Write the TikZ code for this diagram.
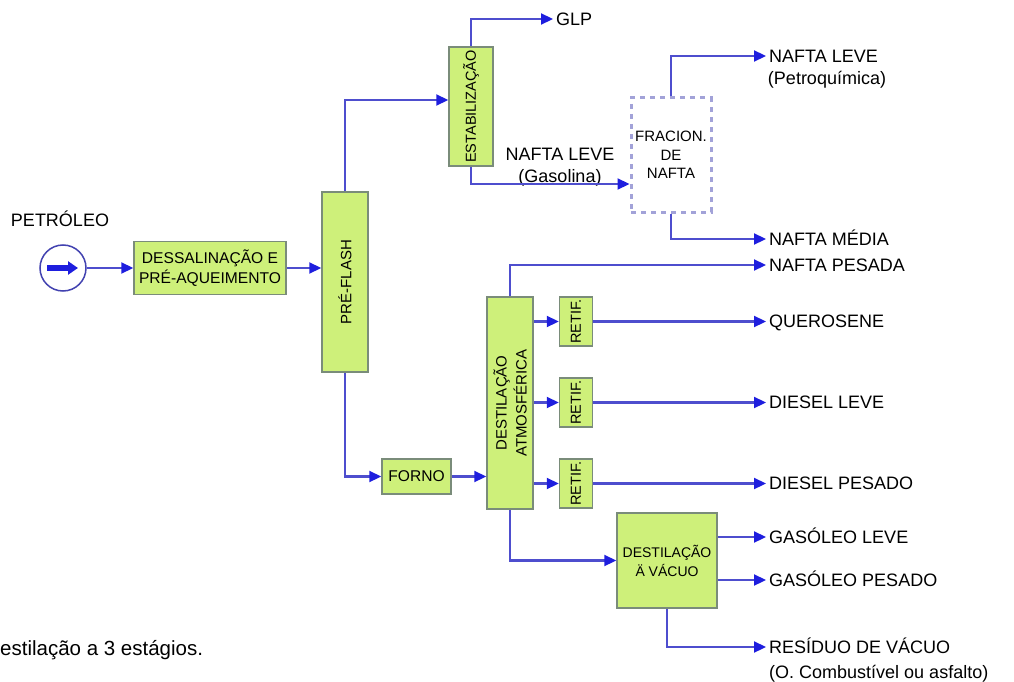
\documentclass[tikz,border=0pt]{standalone}
\usepackage{fontspec}
\setmainfont{Liberation Sans}
\usetikzlibrary{arrows.meta,positioning}

\definecolor{boxgreen}{RGB}{206,240,122}
\definecolor{boxedge}{RGB}{122,140,122}
\definecolor{flowblue}{RGB}{78,78,206}
\definecolor{tipblue}{RGB}{30,30,222}
\definecolor{srcblue}{RGB}{66,66,176}
\definecolor{dashblue}{RGB}{162,162,216}

\begin{document}
\begin{tikzpicture}[x=1pt,y=-1pt,
  unit/.style={draw=boxedge, line width=1.5pt, fill=boxgreen, inner sep=0pt,
    align=center, font=\fontsize{15.6}{19.5}\selectfont},
  vlabel/.style={rotate=90, align=center, inner sep=0pt,
    font=\fontsize{15}{20}\selectfont},
  product/.style={anchor=west, inner xsep=3pt, inner ysep=0pt,
    text height=12.9pt, text depth=0pt, font=\fontsize{18}{20}\selectfont},
  flow/.style={draw=flowblue, line width=2.2pt,
    -{Triangle[length=12pt,width=11pt,color=tipblue]}}]

\useasboundingbox (0,0) rectangle (1014,682);

% Feed
\node[draw=srcblue, line width=1.5pt, circle, minimum size=46pt, inner sep=0pt] (src) at (63,268) {};
\draw[line width=5.5pt, tipblue, -{Triangle[length=10pt,width=13pt]}]
  ([xshift=-16pt]src.center) -- ([xshift=15pt]src.center);
\node[product, anchor=center] (petr) at (60,220) {PETRÓLEO};

% Desalting
\node[unit, minimum width=152pt, minimum height=53pt] (dess) at (210,268)
{DESSALINAÇÃO E\\PRÉ-AQUEIMENTO};

% Pre-flash
\node[unit, minimum width=46pt, minimum height=180pt,
  label={[vlabel]center:PRÉ-FLASH}] (pre) at (345,282) {};

% Stabilization
\node[unit, minimum width=44pt, minimum height=119pt,
  label={[vlabel, font=\fontsize{14.5}{17}\selectfont]center:ESTABILIZAÇÃO}] (estab) at (471,106.5) {};

% Naphtha fractionation
\node[draw=dashblue, dash pattern=on 5pt off 5pt, line width=3pt, minimum width=80pt,
  minimum height=114pt, align=center, font=\fontsize{15}{18.5}\selectfont] (frac) at (671,155)
{FRACION.\\DE\\NAFTA};

% Furnace
\node[unit, minimum width=69pt, minimum height=35pt] (forno) at (416.5,476.5) {FORNO};

% Atmospheric distillation
\node[unit, minimum width=46pt, minimum height=212pt,
  label={[vlabel]center:DESTILAÇÃO\\ATMOSFÉRICA}] (atm) at (510,403) {};

% Side strippers
\foreach \n/\y in {r1/321.5, r2/402.5, r3/483.5}
  \node[unit, minimum width=33pt, minimum height=49pt,
    label={[vlabel, font=\fontsize{14.5}{17}\selectfont]center:RETIF.}] (\n) at (576,\y) {};

% Vacuum distillation
\node[unit, minimum width=100pt, minimum height=95pt, font=\fontsize{14}{19}\selectfont] (vac) at (667,560.5)
{DESTILAÇÃO\\Ä VÁCUO};

%--------------------------------------------------
% Products
%--------------------------------------------------
\node[product] (glp) at (553,19) {GLP};
\node[product, anchor=center] (nlg) at (560,154) {NAFTA LEVE};
\node[product, anchor=center] (nlgsub) at (560,176) {(Gasolina)};
\node[product] (nll) at (766,56) {NAFTA LEVE};
\node[product, anchor=center] (nllsub) at (827,78) {(Petroquímica)};
\node[product] (nm) at (766,239) {NAFTA MÉDIA};
\node[product] (np) at (766,265) {NAFTA PESADA};
\node[product] (ker) at (766,321.5) {QUEROSENE};
\node[product] (dl) at (766,402.5) {DIESEL LEVE};
\node[product] (dp) at (766,483.5) {DIESEL PESADO};
\node[product] (glv) at (766,537) {GASÓLEO LEVE};
\node[product] (gpv) at (766,580) {GASÓLEO PESADO};
\node[product] (res) at (766,647) {RESÍDUO DE VÁCUO};
\node[product] (ressub) at (766,672) {(O. Combustível ou asfalto)};

% Caption
\node[anchor=base west, inner sep=0pt, font=\fontsize{20.5}{22}\selectfont] (cap) at (0,655)
{estilação a 3 estágios.};

%--------------------------------------------------
% Flows
%--------------------------------------------------
\draw[flow] (src) -- (dess);
\draw[flow] (dess.east) -- (dess.east -| pre.west);
\draw[flow] (pre.north) |- ([yshift=6.5pt]estab.west);
\draw[flow] (estab.north) |- (glp.west);
\draw[flow] (estab.south) |- ([yshift=-29pt]frac.west);
\draw[flow] (frac.north) |- (nll.west);
\draw[flow] (frac.south) |- (nm.west);
\draw[flow] (atm.north) |- (np.west);
\foreach \r/\p in {r1/ker, r2/dl, r3/dp}{
  \draw[flow] (atm.east |- \r) -- (\r.west);
  \draw[flow] (\r.east) -- (\p.west);
}
\draw[flow] (pre.south) |- (forno.west);
\draw[flow] (forno.east) -- (forno.east -| atm.west);
\draw[flow] (atm.south) |- (vac.west);
\draw[flow] (vac.east |- glv) -- (glv.west);
\draw[flow] (vac.east |- gpv) -- (gpv.west);
\draw[flow] (vac.south) |- (res.west);

\end{tikzpicture}
\end{document}
